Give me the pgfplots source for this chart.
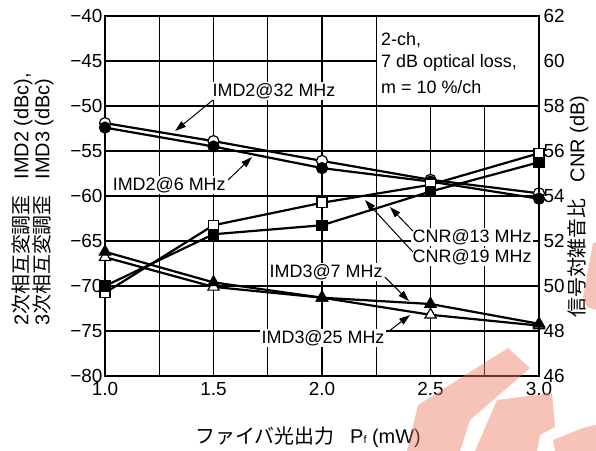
\documentclass[border=0pt]{standalone}
\usepackage{fontspec}
\setmainfont{Liberation Sans}
\newfontfamily\jp{Noto Sans CJK JP}
\usepackage{pgfplots}
\pgfplotsset{compat=1.18}
\usetikzlibrary{arrows.meta}
\newcommand\fs{\fontsize{18}{21}\selectfont}
\newcommand\ft{\fontsize{19}{22}\selectfont}
\newcommand\fl{\fontsize{20}{23}\selectfont}
\definecolor{wm}{RGB}{238,120,95}
\begin{document}
\begin{tikzpicture}
\useasboundingbox (0,0) rectangle (596bp,451bp);
\begin{axis}[
  at={(105bp,75bp)}, anchor=south west, scale only axis,
  width=434bp, height=360bp,
  xmin=1, xmax=3, ymin=-80, ymax=-40,
  xtick={1,1.5,2,2.5,3}, xticklabels={1.0,1.5,2.0,2.5,3.0},
  minor xtick={1.25,1.75,2.25,2.75},
  ytick={-80,-75,-70,-65,-60,-55,-50,-45,-40},
  yticklabels={−80,−75,−70,−65,−60,−55,−50,−45,−40},
  grid=both,
  major grid style={black, line width=1.1bp},
  minor grid style={black, line width=1.1bp},
  major tick length=0pt, minor tick length=0pt,
  axis line style={black, line width=1.8bp},
  tick label style={font=\ft},
  yticklabel style={xshift=1bp},
  xticklabel style={yshift=-3bp},
]
\fill[white] ([xshift=1.2bp,yshift=1.2bp]axis cs:2.25,-50) rectangle ([xshift=-1.2bp,yshift=-1.2bp]axis cs:3,-40);
% IMD2@32 MHz open circles
\addplot[black, line width=2.2bp, mark=*, mark size=5.5bp, mark options={fill=white, line width=1.2bp}]
 coordinates {(1,-51.9) (1.5,-53.9) (2,-56.1) (2.5,-58.2) (3,-59.7)};
% IMD2@6 MHz filled circles
\addplot[black, line width=2.2bp, mark=*, mark size=5.5bp, mark options={fill=black, line width=1.2bp}]
 coordinates {(1,-52.4) (1.5,-54.5) (2,-56.9) (2.5,-58.4) (3,-60.3)};
% IMD3@25 MHz open triangles
\addplot[black, line width=2.2bp, mark=triangle*, mark size=6.5bp, mark options={fill=white, line width=1.2bp}]
 coordinates {(1,-66.8) (1.5,-70.1) (2,-71.3) (2.5,-73.2) (3,-74.4)};
% IMD3@7 MHz filled triangles
\addplot[black, line width=2.2bp, mark=triangle*, mark size=6.5bp, mark options={fill=black, line width=1.2bp}]
 coordinates {(1,-66.2) (1.5,-69.6) (2,-71.3) (2.5,-72.0) (3,-74.2)};
\end{axis}
\begin{axis}[
  at={(105bp,75bp)}, anchor=south west, scale only axis,
  width=434bp, height=360bp,
  xmin=1, xmax=3, ymin=46, ymax=62,
  axis x line=none, axis y line*=right,
  ytick={46,48,50,52,54,56,58,60,62},
  yticklabels={46,48,50,52,54,56,58,60,62},
  major tick length=0pt,
  axis line style={black, line width=1.8bp},
  tick label style={font=\ft},
  yticklabel style={xshift=1bp},
  clip=false,
]
% CNR@19 MHz open squares
\addplot[black, line width=2.2bp, mark=square*, mark size=5bp, mark options={fill=white, line width=1.2bp}]
 coordinates {(1,49.7) (1.5,52.7) (2,53.7) (2.5,54.5) (3,55.9)};
% CNR@13 MHz filled squares
\addplot[black, line width=2.2bp, mark=square*, mark size=5bp, mark options={fill=black, line width=1.2bp}]
 coordinates {(1,50.0) (1.5,52.3) (2,52.7) (2.5,54.2) (3,55.5)};
% annotations
\tikzset{lab/.style={font=\fs, fill=white, inner sep=1.5bp, anchor=west}, arr/.style={black, line width=1bp, -{Triangle[length=11bp,width=7bp]}}}
\node[lab] at (axis cs:1.488,58.67) {IMD2@32 MHz};
\draw[arr] (axis cs:1.498,58.27) -- (axis cs:1.323,56.89);
\node[lab] at (axis cs:1.028,54.49) {IMD2@6 MHz};
\draw[arr] (axis cs:1.567,54.71) -- (axis cs:1.677,55.73);
\node[font=\fs, anchor=west, inner sep=0pt] at (axis cs:2.272,60.93) {2-ch,};
\node[font=\fs, anchor=west, inner sep=0pt] at (axis cs:2.272,59.91) {7 dB optical loss,};
\node[font=\fs, anchor=west, inner sep=0pt] at (axis cs:2.272,58.85) {m = 10 \%/ch};
\node[lab] at (axis cs:2.41,52.18) {CNR@13 MHz};
\node[lab] at (axis cs:2.41,51.29) {CNR@19 MHz};
\draw[arr] (axis cs:2.419,52.44) -- (axis cs:2.313,53.51);
\draw[arr] (axis cs:2.419,51.51) -- (axis cs:2.198,53.82);
\node[lab] at (axis cs:1.751,50.62) {IMD3@7 MHz};
\draw[arr] (axis cs:2.29,50.4) -- (axis cs:2.401,49.33);
\node[lab] at (axis cs:1.714,47.69) {IMD3@25 MHz};
\draw[arr] (axis cs:2.309,48.0) -- (axis cs:2.406,48.71);
\end{axis}
\node[font=\fl] at (308bp,14bp) {{\jp ファイバ光出力}\hspace{0.8em}P{\fontsize{11}{12}\selectfont f} (mW)};
\node[font=\fl, rotate=90, anchor=west, inner sep=0pt] at (22bp,125bp) {2{\jp 次相互変調歪}\hspace{0.8em}IMD2 (dBc),};
\node[font=\fl, rotate=90, anchor=west, inner sep=0pt] at (43bp,125bp) {3{\jp 次相互変調歪}\hspace{0.8em}IMD3 (dBc)};
\node[font=\fl, rotate=90, anchor=west, inner sep=0pt] at (578bp,133bp) {{\jp 信号対雑音比}\hspace{0.8em}CNR (dB)};
% watermark (approximate)
\begin{scope}[fill=wm, opacity=0.45, x=1bp, y=-1bp, yshift=451bp]
\fill (407,451) -- (418,405) -- (508,348) -- (530,368) -- (470,420) -- (460,451) -- cycle;
\fill (475,451) -- (497,400) -- (552,393) -- (555,427) -- (540,435) -- (537,451) -- cycle;
\fill (555,451) -- (553,440) -- (583,428) -- (596,425) -- (596,451) -- cycle;
\fill (596,243) -- (593,243) -- (583,297) -- (587,307) -- (596,310) -- cycle;
\end{scope}
\end{tikzpicture}
\end{document}
